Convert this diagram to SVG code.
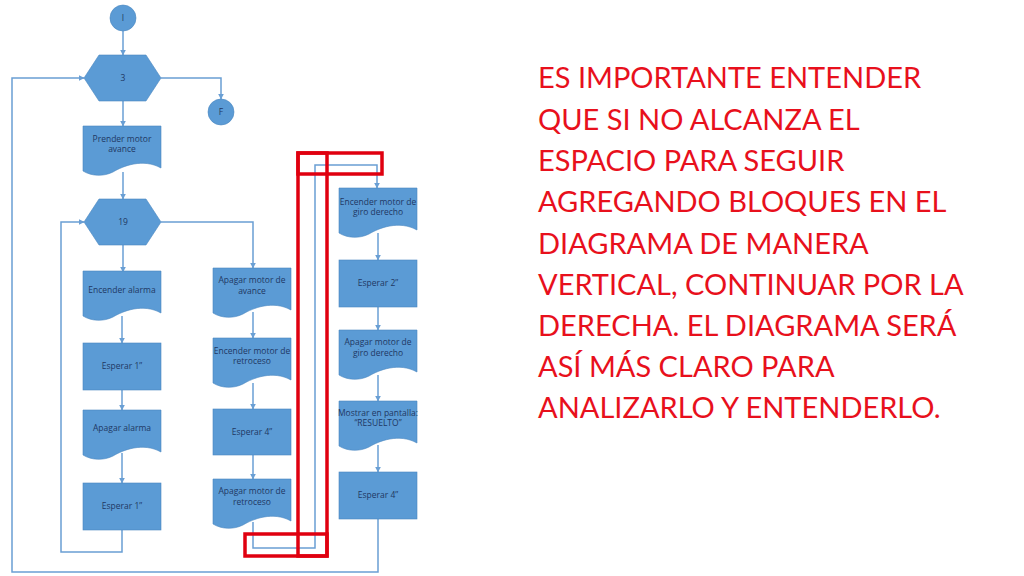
<svg xmlns="http://www.w3.org/2000/svg" width="1024" height="576" viewBox="0 0 1024 576">
<style>
.s{fill:#5b9bd5;stroke:#4a86c0;stroke-width:0.6}
.t{font-family:"Open Sans","Liberation Sans",sans-serif;font-size:8.5px;fill:#1f3864;text-anchor:middle}
.c{fill:none;stroke:#6a9fd4;stroke-width:1.5}
.r{fill:none;stroke:#e0000f;stroke-width:3.5}
.big{font-family:"Lato","Liberation Sans",sans-serif;font-size:29px;fill:#e8101c}
</style>
<defs>
<path id="doc" d="M0,0 H78 V42 C60,32 40,40 30,46 C20,51 8,50 0,45 Z"/>
<marker id="a" viewBox="0 0 10 10" refX="9" refY="5" markerWidth="6" markerHeight="6" orient="auto" markerUnits="userSpaceOnUse"><path d="M0,0 L10,5 L0,10 Z" fill="#6a9fd4"/></marker>
</defs>
<rect width="1024" height="576" fill="#fff"/>
<g id="connectors">
<path class="c" d="M123,31 V55" marker-end="url(#a)"/>
<path class="c" d="M161,78 H221 V99" marker-end="url(#a)"/>
<path class="c" d="M123,101 V126" marker-end="url(#a)"/>
<path class="c" d="M123,172 V199" marker-end="url(#a)"/>
<path class="c" d="M123,245 V272" marker-end="url(#a)"/>
<path class="c" d="M161,222 H253 V268" marker-end="url(#a)"/>
<path class="c" d="M122,316 V343" marker-end="url(#a)"/>
<path class="c" d="M122,390 V410" marker-end="url(#a)"/>
<path class="c" d="M122,453 V483" marker-end="url(#a)"/>
<path class="c" d="M122,530 V552 H61 V222 H84" marker-end="url(#a)"/>
<path class="c" d="M253,312 V338" marker-end="url(#a)"/>
<path class="c" d="M253,383 V409" marker-end="url(#a)"/>
<path class="c" d="M253,455 V479" marker-end="url(#a)"/>
<path class="c" d="M253,522 V548 H315 V165 H377 V188" marker-end="url(#a)"/>
<path class="c" d="M378,233 V260" marker-end="url(#a)"/>
<path class="c" d="M378,307 V330" marker-end="url(#a)"/>
<path class="c" d="M378,375 V401" marker-end="url(#a)"/>
<path class="c" d="M378,445 V472" marker-end="url(#a)"/>
<path class="c" d="M378,519 V572 H12 V78 H84" marker-end="url(#a)"/>
</g>
<g id="n-i"><circle class="s" cx="123" cy="18" r="13"/><text class="t" x="123" y="21">I</text></g>
<g id="n-3"><path class="s" d="M84,78 L99,55 H146 L161,78 L146,101 H99 Z"/><text class="t" x="123" y="81">3</text></g>
<g id="n-f"><circle class="s" cx="221" cy="112" r="13"/><text class="t" x="221" y="115">F</text></g>
<g id="n-prender"><use href="#doc" class="s" x="83" y="126"/><text class="t" x="122" y="142">Prender motor</text><text class="t" x="122" y="152">avance</text></g>
<g id="n-19"><path class="s" d="M84,222 L99,199 H146 L161,222 L146,245 H99 Z"/><text class="t" x="123" y="225">19</text></g>
<g id="n-enc-alarma"><use href="#doc" class="s" x="83" y="271"/><text class="t" x="122" y="293">Encender alarma</text></g>
<g id="n-esp1a"><rect class="s" x="83" y="343" width="78" height="47"/><text class="t" x="122" y="369">Esperar 1’’</text></g>
<g id="n-apa-alarma"><use href="#doc" class="s" x="83" y="410"/><text class="t" x="122" y="431">Apagar alarma</text></g>
<g id="n-esp1b"><rect class="s" x="83" y="483" width="78" height="47"/><text class="t" x="122" y="509">Esperar 1’’</text></g>
<g id="n-apa-avance"><use href="#doc" class="s" x="213" y="268"/><text class="t" x="252" y="283">Apagar motor de</text><text class="t" x="252" y="294">avance</text></g>
<g id="n-enc-retro"><use href="#doc" class="s" x="213" y="338"/><text class="t" x="252" y="354">Encender motor de</text><text class="t" x="252" y="364">retroceso</text></g>
<g id="n-esp4a"><rect class="s" x="213" y="409" width="78" height="46"/><text class="t" x="252" y="435">Esperar 4’’</text></g>
<g id="n-apa-retro"><use href="#doc" class="s" x="213" y="479"/><text class="t" x="252" y="494">Apagar motor de</text><text class="t" x="252" y="505">retroceso</text></g>
<g id="n-enc-giro"><use href="#doc" class="s" x="339" y="188"/><text class="t" x="378" y="205">Encender motor de</text><text class="t" x="378" y="215">giro derecho</text></g>
<g id="n-esp2"><rect class="s" x="339" y="260" width="78" height="47"/><text class="t" x="378" y="286">Esperar 2’’</text></g>
<g id="n-apa-giro"><use href="#doc" class="s" x="339" y="330"/><text class="t" x="378" y="345">Apagar motor de</text><text class="t" x="378" y="356">giro derecho</text></g>
<g id="n-mostrar"><use href="#doc" class="s" x="339" y="401"/><text class="t" x="378" y="416">Mostrar en pantalla:</text><text class="t" x="378" y="426">“RESUELTO”</text></g>
<g id="n-esp4b"><rect class="s" x="339" y="472" width="78" height="47"/><text class="t" x="378" y="498">Esperar 4’’</text></g>
<g id="highlight">
<rect class="r" x="298" y="153" width="29" height="403"/>
<rect class="r" x="298" y="153" width="84" height="21"/>
<rect class="r" x="245" y="534" width="82" height="22"/>
</g>
<g id="note">
<text class="big" x="538" y="88">ES IMPORTANTE ENTENDER</text>
<text class="big" x="538" y="130">QUE SI NO ALCANZA EL</text>
<text class="big" x="538" y="171">ESPACIO PARA SEGUIR</text>
<text class="big" x="538" y="212">AGREGANDO BLOQUES EN EL</text>
<text class="big" x="538" y="254">DIAGRAMA DE MANERA</text>
<text class="big" x="538" y="295">VERTICAL, CONTINUAR POR LA</text>
<text class="big" x="538" y="336">DERECHA. EL DIAGRAMA SERÁ</text>
<text class="big" x="538" y="377">ASÍ MÁS CLARO PARA</text>
<text class="big" x="538" y="418">ANALIZARLO Y ENTENDERLO.</text>
</g>
</svg>
